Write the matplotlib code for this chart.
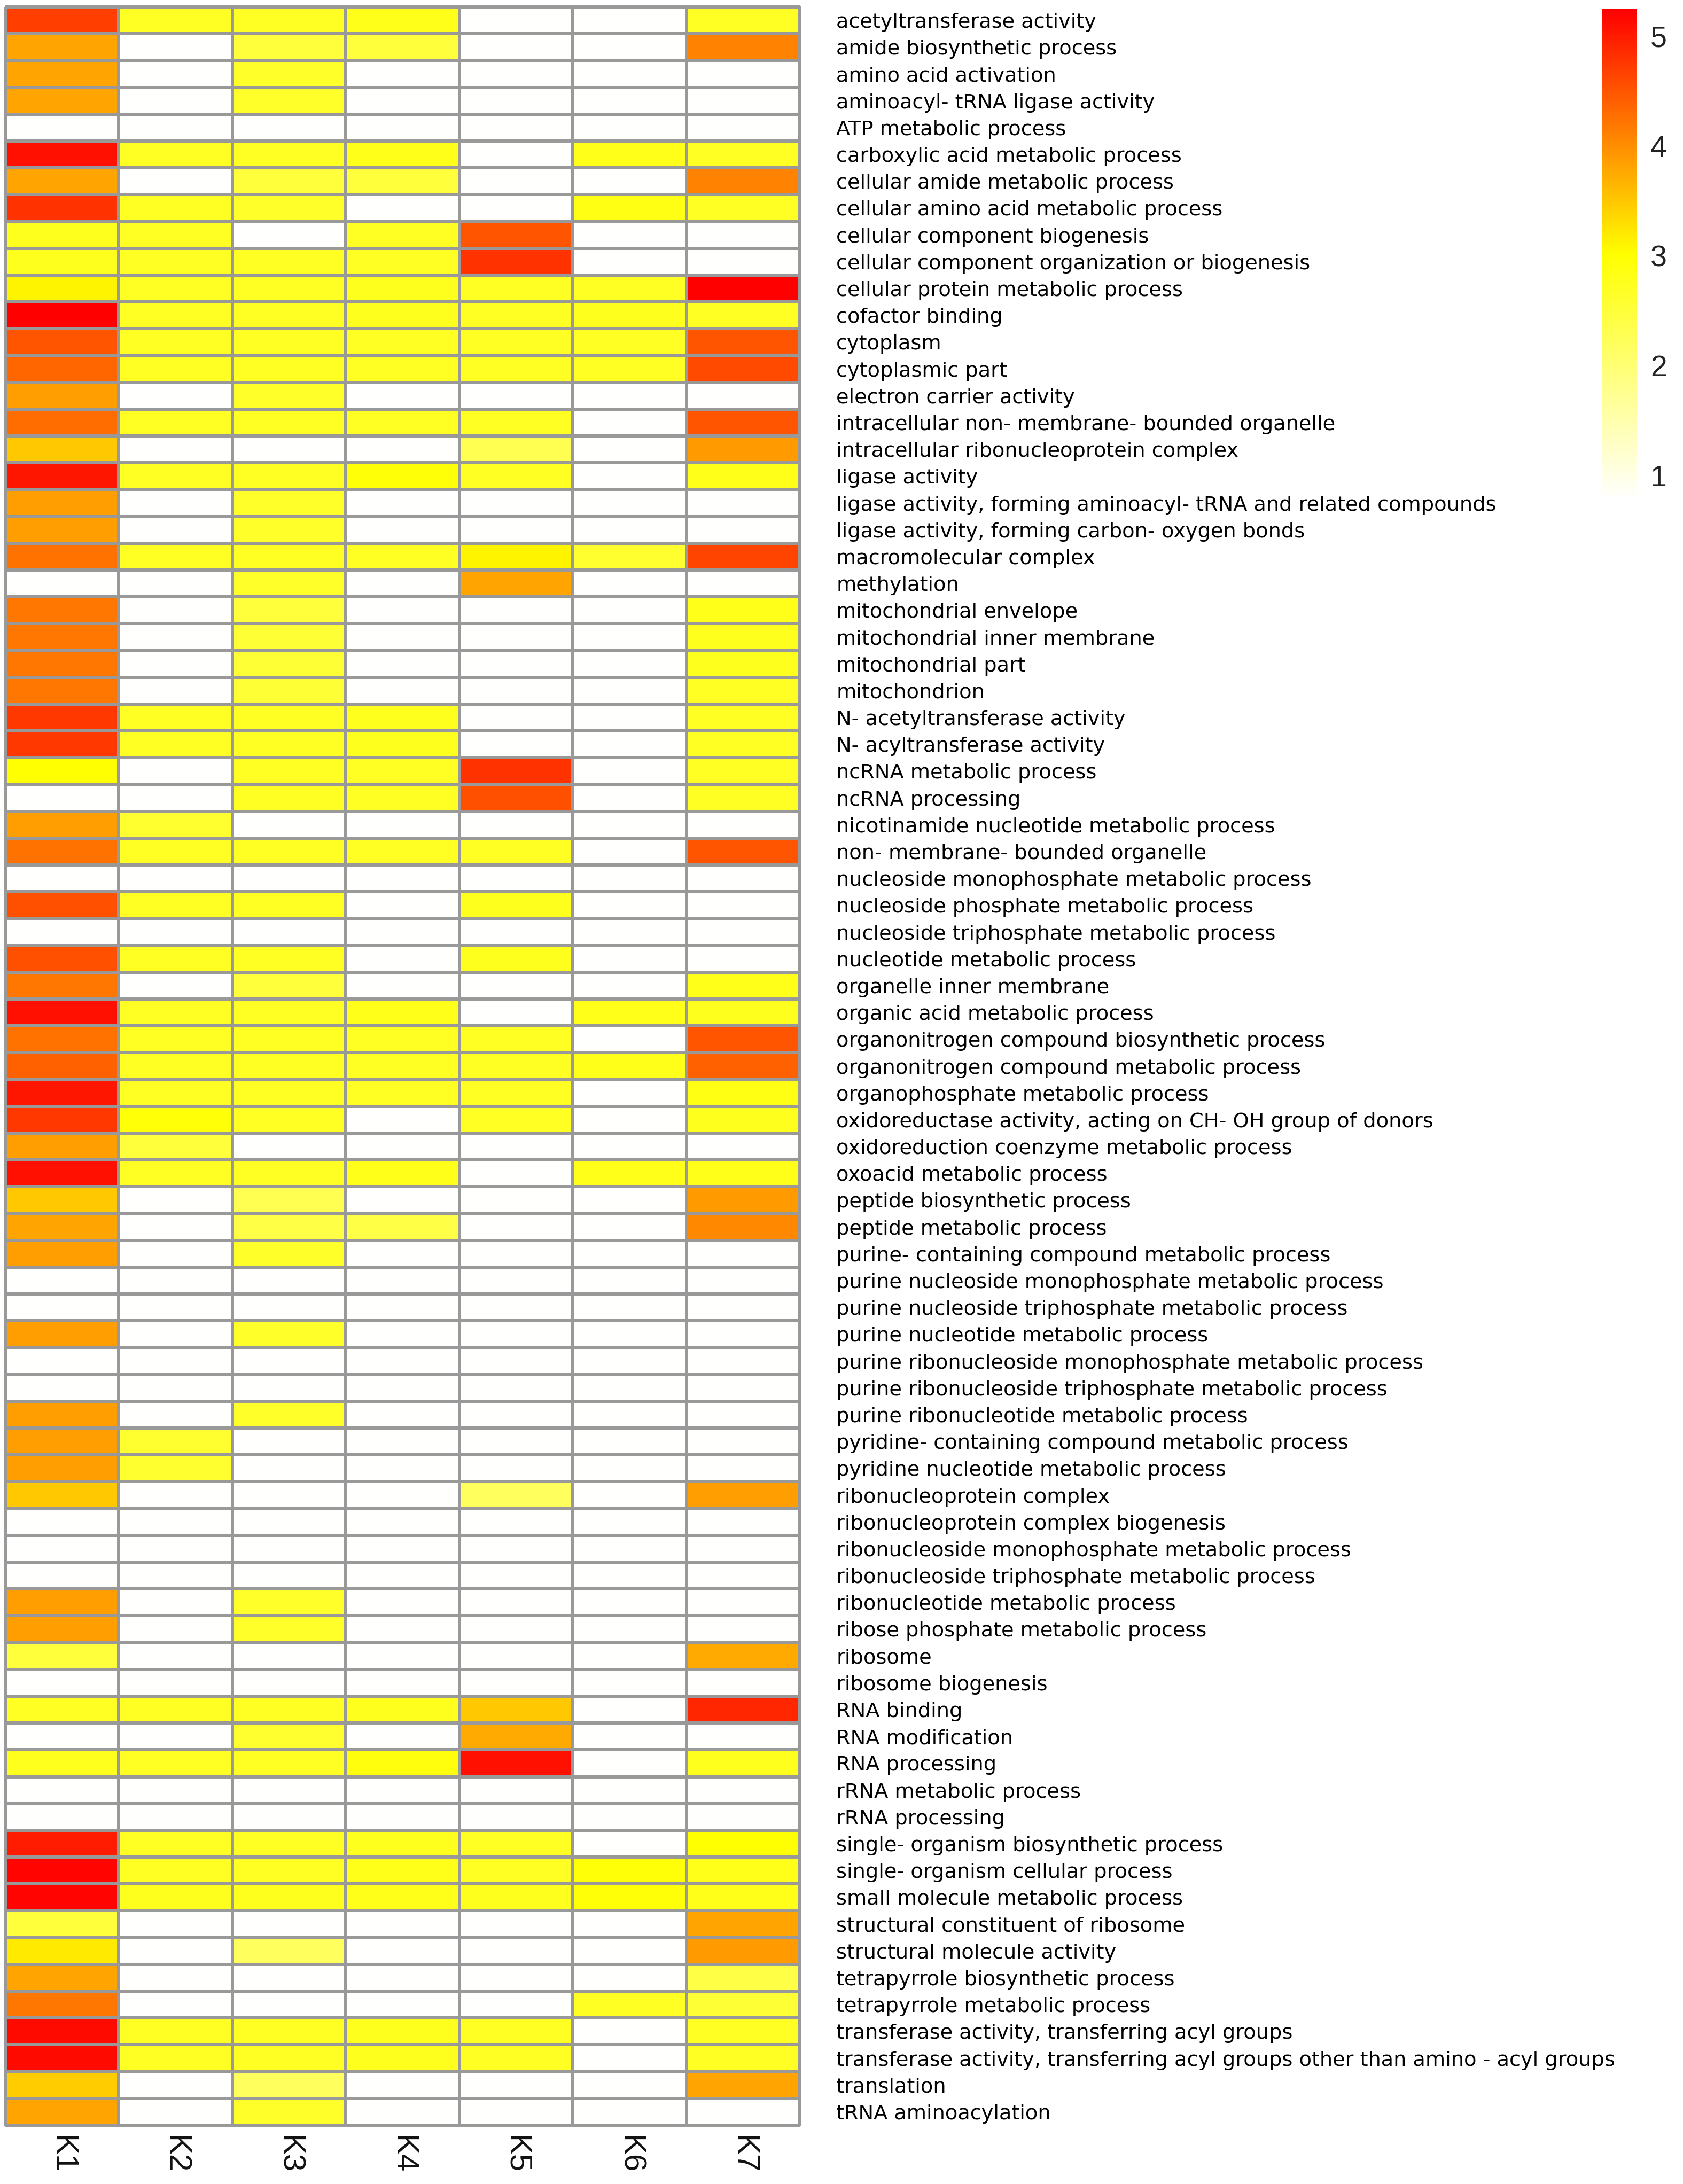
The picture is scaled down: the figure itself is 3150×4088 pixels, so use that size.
import numpy as np
import matplotlib
matplotlib.use("Agg")
import matplotlib.pyplot as plt
from matplotlib.colors import LinearSegmentedColormap, Normalize

# ---------------- data ----------------
terms = [
    "acetyltransferase activity",
    "amide biosynthetic process",
    "amino acid activation",
    "aminoacyl- tRNA ligase activity",
    "ATP metabolic process",
    "carboxylic acid metabolic process",
    "cellular amide metabolic process",
    "cellular amino acid metabolic process",
    "cellular component biogenesis",
    "cellular component organization or biogenesis",
    "cellular protein metabolic process",
    "cofactor binding",
    "cytoplasm",
    "cytoplasmic part",
    "electron carrier activity",
    "intracellular non- membrane- bounded organelle",
    "intracellular ribonucleoprotein complex",
    "ligase activity",
    "ligase activity, forming aminoacyl- tRNA and related compounds",
    "ligase activity, forming carbon- oxygen bonds",
    "macromolecular complex",
    "methylation",
    "mitochondrial envelope",
    "mitochondrial inner membrane",
    "mitochondrial part",
    "mitochondrion",
    "N- acetyltransferase activity",
    "N- acyltransferase activity",
    "ncRNA metabolic process",
    "ncRNA processing",
    "nicotinamide nucleotide metabolic process",
    "non- membrane- bounded organelle",
    "nucleoside monophosphate metabolic process",
    "nucleoside phosphate metabolic process",
    "nucleoside triphosphate metabolic process",
    "nucleotide metabolic process",
    "organelle inner membrane",
    "organic acid metabolic process",
    "organonitrogen compound biosynthetic process",
    "organonitrogen compound metabolic process",
    "organophosphate metabolic process",
    "oxidoreductase activity, acting on CH- OH group of donors",
    "oxidoreduction coenzyme metabolic process",
    "oxoacid metabolic process",
    "peptide biosynthetic process",
    "peptide metabolic process",
    "purine- containing compound metabolic process",
    "purine nucleoside monophosphate metabolic process",
    "purine nucleoside triphosphate metabolic process",
    "purine nucleotide metabolic process",
    "purine ribonucleoside monophosphate metabolic process",
    "purine ribonucleoside triphosphate metabolic process",
    "purine ribonucleotide metabolic process",
    "pyridine- containing compound metabolic process",
    "pyridine nucleotide metabolic process",
    "ribonucleoprotein complex",
    "ribonucleoprotein complex biogenesis",
    "ribonucleoside monophosphate metabolic process",
    "ribonucleoside triphosphate metabolic process",
    "ribonucleotide metabolic process",
    "ribose phosphate metabolic process",
    "ribosome",
    "ribosome biogenesis",
    "RNA binding",
    "RNA modification",
    "RNA processing",
    "rRNA metabolic process",
    "rRNA processing",
    "single- organism biosynthetic process",
    "single- organism cellular process",
    "small molecule metabolic process",
    "structural constituent of ribosome",
    "structural molecule activity",
    "tetrapyrrole biosynthetic process",
    "tetrapyrrole metabolic process",
    "transferase activity, transferring acyl groups",
    "transferase activity, transferring acyl groups other than amino - acyl groups",
    "translation",
    "tRNA aminoacylation",
]

clusters = ["K1", "K2", "K3", "K4", "K5", "K6", "K7"]

W = 0.8  # lowest value (white)

K1 = [4.7, 3.8, 3.8, 3.8, W, 5.1, 3.8, 4.8, 2.75, 2.75,
      3.1, 5.25, 4.5, 4.35, 3.85, 4.3, 3.5, 5.05, 3.85, 3.85,
      4.25, W, 4.2, 4.2, 4.2, 4.2, 4.75, 4.75, 3.0, W,
      3.85, 4.25, W, 4.55, W, 4.55, 4.2, 5.1, 4.25, 4.4,
      5.05, 4.75, 3.85, 5.1, 3.5, 3.8, 3.85, W, W, 3.85,
      W, W, 3.85, 3.85, 3.85, 3.5, W, W, W, 3.85,
      3.85, 2.5, W, 2.7, W, 2.75, W, W, 5.0, 5.2,
      5.2, 2.5, 3.2, 3.8, 4.2, 5.15, 5.15, 3.45, 3.8]
K2 = [2.7, W, W, W, W, 2.7, W, 2.7, 2.7, 2.7,
      2.7, 2.7, 2.7, 2.7, W, 2.7, W, 2.7, W, W,
      2.7, W, W, W, W, W, 2.7, 2.7, W, W,
      2.6, 2.7, W, 2.7, W, 2.7, W, 2.7, 2.7, 2.7,
      2.7, 2.95, 2.5, 2.7, W, W, W, W, W, W,
      W, W, W, 2.6, 2.6, W, W, W, W, W,
      W, W, W, 2.7, W, 2.7, W, W, 2.7, 2.7,
      2.75, W, W, W, W, 2.7, 2.7, W, W]
K3 = [2.7, 2.5, 2.65, 2.65, W, 2.7, 2.5, 2.65, W, 2.7,
      2.7, 2.7, 2.7, 2.7, 2.65, 2.7, W, 2.7, 2.65, 2.65,
      2.7, 2.65, 2.5, 2.55, 2.55, 2.55, 2.7, 2.7, 2.7, 2.7,
      W, 2.7, W, 2.7, W, 2.7, 2.5, 2.7, 2.7, 2.7,
      2.7, 2.7, W, 2.7, 2.3, 2.4, 2.65, W, W, 2.65,
      W, W, 2.65, W, W, W, W, W, W, 2.65,
      2.65, W, W, 2.7, 2.6, 2.7, W, W, 2.7, 2.7,
      2.75, W, 2.2, W, W, 2.7, 2.7, 2.2, 2.65]
K4 = [2.8, 2.5, W, W, W, 2.8, 2.5, W, 2.7, 2.7,
      2.75, 2.75, 2.7, 2.7, W, 2.7, W, 2.95, W, W,
      2.7, W, W, W, W, W, 2.75, 2.75, 2.7, 2.7,
      W, 2.7, W, W, W, W, W, 2.8, 2.7, 2.7,
      2.7, W, W, 2.8, W, 2.4, W, W, W, W,
      W, W, W, W, W, W, W, W, W, W,
      W, W, W, 2.75, W, 2.9, W, W, 2.75, 2.8,
      2.8, W, W, W, W, 2.75, 2.75, W, W]
K5 = [W, W, W, W, W, W, W, W, 4.5, 4.8,
      2.7, 2.7, 2.7, 2.7, W, 2.7, 2.3, 2.7, W, W,
      3.1, 3.8, W, W, W, W, W, W, 4.8, 4.55,
      W, 2.7, W, 2.75, W, 2.75, W, W, 2.7, 2.7,
      2.7, 2.7, W, W, W, W, W, W, W, W,
      W, W, W, W, W, 2.2, W, W, W, W,
      W, W, W, 3.5, 3.75, 5.1, W, W, 2.7, 2.7,
      2.75, W, W, W, W, 2.7, 2.7, W, W]
K6 = [W, W, W, W, W, 2.8, W, 2.85, W, W,
      2.7, 2.75, 2.7, 2.7, W, W, W, W, W, W,
      2.6, W, W, W, W, W, W, W, W, W,
      W, W, W, W, W, W, W, 2.8, W, 2.8,
      W, W, W, 2.8, W, W, W, W, W, W,
      W, W, W, W, W, W, W, W, W, W,
      W, W, W, W, W, W, W, W, W, 2.95,
      2.95, W, W, W, 2.7, W, W, W, W]
K7 = [2.7, 4.1, W, W, W, 2.7, 4.1, 2.7, W, W,
      5.25, 2.7, 4.5, 4.6, W, 4.5, 3.9, 2.8, W, W,
      4.65, W, 2.8, 2.75, 2.75, 2.7, 2.7, 2.7, 2.7, 2.7,
      W, 4.5, W, W, W, W, 2.8, 2.75, 4.5, 4.4,
      2.85, 2.75, W, 2.8, 3.9, 4.05, W, W, W, W,
      W, W, W, W, W, 3.85, W, W, W, W,
      W, 3.75, W, 4.9, W, 2.75, W, W, 3.0, 2.8,
      2.8, 3.8, 3.9, 2.4, 2.55, 2.7, 2.7, 3.8, W]

cbar_ticks = [1, 2, 3, 4, 5]
vmin, vmax = 0.77, 5.25

# ---------------- figure ----------------
FW, FH = 3150, 4088
DPI = 100
fig = plt.figure(figsize=(FW / DPI, FH / DPI), dpi=DPI)
fig.patch.set_facecolor("white")

def px_axes(x0, y0, x1, y1):
    return fig.add_axes([x0 / FW, 1 - y1 / FH, (x1 - x0) / FW, (y1 - y0) / FH])

data = np.column_stack([K1, K2, K3, K4, K5, K6, K7])
nrow, ncol = data.shape

cmap = LinearSegmentedColormap.from_list("wyr", ["#FFFFFF", "#FFFF00", "#FF0000"])
norm = Normalize(vmin=vmin, vmax=vmax)

ax = px_axes(10, 13, 1497, 3978)
mesh = ax.pcolormesh(np.arange(ncol + 1), np.arange(nrow + 1), data,
                     cmap=cmap, norm=norm, edgecolors="#999999", linewidth=3.0)
mesh.set_clip_on(False)
ax.set_xlim(0, ncol)
ax.set_ylim(nrow, 0)
for s in ax.spines.values():
    s.set_visible(False)

ax.yaxis.tick_right()
ax.set_yticks(np.arange(nrow) + 0.5)
ax.set_yticklabels(terms, fontfamily="DejaVu Sans", fontsize=27.5, color="#000000")
ax.tick_params(axis="y", length=0, pad=49)

ax.set_xticks(np.arange(ncol) + 0.5)
ax.set_xticklabels(clusters, rotation=270, fontfamily="Liberation Sans",
                   fontsize=42, color="#111111")
ax.tick_params(axis="x", length=0, pad=14)

# colorbar
cax = px_axes(2998, 16, 3064, 937)
cb = fig.colorbar(mesh, cax=cax, ticks=cbar_ticks)
cb.outline.set_visible(False)
cax.tick_params(length=0, pad=18, labelsize=40, colors="#222222")
for t in cax.get_yticklabels():
    t.set_fontfamily("Liberation Sans")

fig.savefig("out.png", dpi=DPI, facecolor="white")
